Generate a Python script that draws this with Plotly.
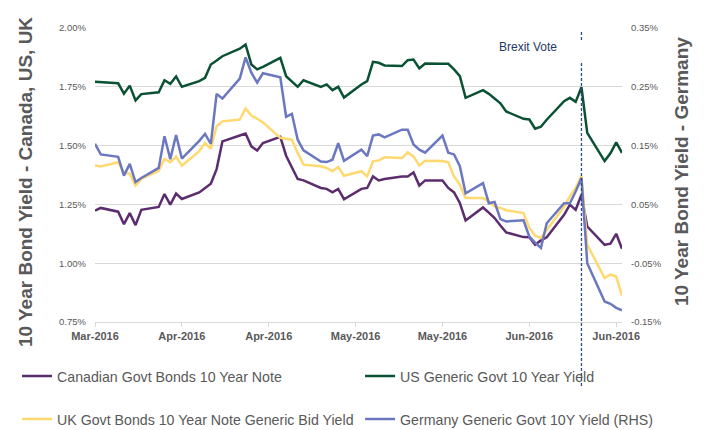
import pandas as pd
import plotly.graph_objects as go

# Business days from 31 Mar 2016 to 30 Jun 2016 (66 trading days)
dates = pd.bdate_range("2016-03-31", "2016-06-30").strftime("%Y-%m-%d").tolist()

canada = [1.223, 1.235, 1.219, 1.166, 1.213, 1.162, 1.227,
          1.239, 1.294, 1.249, 1.296, 1.273,
          1.301, 1.320, 1.338, 1.400, 1.518,
          1.543, 1.551, 1.497, 1.479, 1.511,
          1.537, 1.457, 1.409, 1.358, 1.352,
          1.320, 1.316, 1.301, 1.316, 1.272,
          1.316, 1.320, 1.369, 1.352, 1.358,
          1.369, 1.369, 1.386, 1.330, 1.352,
          1.352, 1.320, 1.301, 1.256, 1.182,
          1.237, 1.215, 1.192, 1.160, 1.131,
          1.111, 1.110, 1.078, 1.097, 1.110,
          1.206, 1.249, 1.227, 1.291, 1.156,
          1.078, 1.083, 1.125, 1.061]

us = [1.771, 1.770, 1.765, 1.721, 1.755, 1.692, 1.719,
      1.727, 1.778, 1.763, 1.794, 1.750,
      1.774, 1.788, 1.845, 1.862, 1.880,
      1.912, 1.930, 1.845, 1.824, 1.835,
      1.873, 1.795, 1.771, 1.750, 1.778,
      1.750, 1.760, 1.736, 1.750, 1.704,
      1.760, 1.774, 1.856, 1.852, 1.841,
      1.838, 1.863, 1.866, 1.828, 1.849,
      1.848, 1.848, 1.824, 1.795, 1.703,
      1.736, 1.720, 1.698, 1.680, 1.645,
      1.614, 1.611, 1.572, 1.580, 1.610,
      1.689, 1.703, 1.686, 1.748, 1.554,
      1.434, 1.467, 1.514, 1.469]

uk = [1.415, 1.411, 1.429, 1.384, 1.381, 1.330, 1.359,
      1.393, 1.443, 1.429, 1.454, 1.415,
      1.476, 1.511, 1.486, 1.582, 1.603,
      1.611, 1.658, 1.628, 1.614, 1.599,
      1.533, 1.528, 1.525, 1.469, 1.419,
      1.412, 1.405, 1.391, 1.409, 1.372,
      1.391, 1.369, 1.433, 1.437, 1.450,
      1.447, 1.471, 1.454, 1.415, 1.436,
      1.434, 1.429, 1.369, 1.334, 1.277,
      1.277, 1.263, 1.241, 1.235, 1.225,
      1.213, 1.150, 1.117, 1.107, 1.140,
      1.241, 1.284, 1.320, 1.372, 1.078,
      0.937, 0.951, 0.943, 0.862]

germany = [0.153, 0.135, 0.131, 0.099, 0.119, 0.088, 0.095,
           0.112, 0.166, 0.127, 0.168, 0.128,
           0.158, 0.170, 0.153, 0.238, 0.230,
           0.264, 0.300, 0.274, 0.257, 0.273,
           0.266, 0.199, 0.204, 0.160, 0.142,
           0.123, 0.122, 0.126, 0.154, 0.124,
           0.143, 0.132, 0.167, 0.169, 0.164,
           0.177, 0.177, 0.152, 0.143, 0.138,
           0.167, 0.138, 0.135, 0.115, 0.069,
           0.086, 0.052, 0.054, 0.025, 0.021,
           0.023, -0.005, -0.015, -0.024, 0.018,
           0.052, 0.052, 0.072, 0.095, -0.050,
           -0.115, -0.119, -0.126, -0.130]

x_tickvals = ["2016-03-31", "2016-04-15", "2016-04-30", "2016-05-15",
              "2016-05-30", "2016-06-14", "2016-06-29"]
left_ticks = [0.75, 1.00, 1.25, 1.50, 1.75, 2.00]
left_text = ["0.75%", "1.00%", "1.25%", "1.50%", "1.75%", "2.00%"]
right_ticks = [-0.15, -0.05, 0.05, 0.15, 0.25, 0.35]
right_text = ["-0.15%", "-0.05%", "0.05%", "0.15%", "0.25%", "0.35%"]
left_title = "10 Year Bond Yield - Canada, US, UK"
right_title = "10 Year Bond Yield - Germany"
brexit_date = "2016-06-23"

FONT = "Liberation Sans, Arial, sans-serif"
GREY = "#595959"

fig = go.Figure()
fig.add_trace(go.Scatter(x=dates, y=canada, mode="lines", name="Canadian Govt Bonds 10 Year Note",
                         line=dict(color="#5C2D6E", width=2.5), legend="legend", legendgroup="ca"))
fig.add_trace(go.Scatter(x=dates, y=uk, mode="lines", name="UK Govt Bonds 10 Year Note Generic Bid Yield",
                         line=dict(color="#FFD970", width=2.5), legend="legend", legendgroup="uk"))
fig.add_trace(go.Scatter(x=dates, y=us, mode="lines", name="US Generic Govt 10 Year Yield",
                         line=dict(color="#0A5233", width=2.5), legend="legend2", legendgroup="us"))
fig.add_trace(go.Scatter(x=dates, y=germany, mode="lines", name="Germany Generic Govt 10Y Yield (RHS)",
                         line=dict(color="#6B78C0", width=2.5), legend="legend2", legendgroup="de",
                         yaxis="y2"))

legend_common = dict(orientation="v", yanchor="top", xanchor="left",
                     yref="container", y=0.1619,
                     font=dict(family=FONT, size=14.2, color=GREY), bgcolor="rgba(0,0,0,0)",
                     tracegroupgap=21.5, itemwidth=30)

fig.update_layout(
    width=704, height=430,
    margin=dict(l=95, r=82, t=28, b=108),
    paper_bgcolor="white", plot_bgcolor="white",
    font=dict(family=FONT, color=GREY),
    legend=dict(x=-0.148, **legend_common),
    legend2=dict(x=0.503, **legend_common),
    xaxis=dict(type="date", range=["2016-03-31", "2016-06-30"],
               tickvals=x_tickvals, tickformat="%b-%Y",
               tickfont=dict(family=FONT, size=11, color=GREY, weight="bold"),
               showgrid=False, showline=True, linecolor="#D9D9D9", linewidth=1,
               ticks="outside", ticklen=4, tickcolor="#D9D9D9", zeroline=False),
    yaxis=dict(range=[0.75, 2.0], tickvals=left_ticks, ticktext=left_text,
               tickfont=dict(family=FONT, size=9.5, color=GREY),
               showgrid=True, gridcolor="#D9D9D9", gridwidth=1, zeroline=False,
               ticklabelstandoff=8),
    yaxis2=dict(range=[-0.15, 0.35], tickvals=right_ticks, ticktext=right_text,
                overlaying="y", side="right", showgrid=False, zeroline=False,
                tickfont=dict(family=FONT, size=9.5, color=GREY),
                ticklabelstandoff=8),
    showlegend=True,
)

title_font = dict(family=FONT, size=19, color=GREY, weight="bold")
fig.add_annotation(text=left_title, textangle=-90, xref="paper", yref="paper",
                   x=-0.1328, y=0.476, xanchor="center", yanchor="middle",
                   showarrow=False, font=title_font)
fig.add_annotation(text=right_title, textangle=-90, xref="paper", yref="paper",
                   x=1.112, y=0.510, xanchor="center", yanchor="middle",
                   showarrow=False, font=title_font)

# Brexit vote marker (dashed vertical line, broken around the label)
line_style = dict(color="#2E4A86", width=1.3, dash="3px,2px")
fig.add_shape(type="line", xref="x", yref="paper", x0=brexit_date, x1=brexit_date,
              y0=0.986, y1=0.959, line=line_style)
fig.add_shape(type="line", xref="x", yref="paper", x0=brexit_date, x1=brexit_date,
              y0=0.881, y1=-0.224, line=line_style)
fig.add_annotation(text="Brexit Vote", xref="paper", yref="paper", x=0.8216, y=0.935,
                   xanchor="center", yanchor="middle",
                   showarrow=False, font=dict(family=FONT, size=12, color="#1F3864"))

fig.write_html("out.html")
